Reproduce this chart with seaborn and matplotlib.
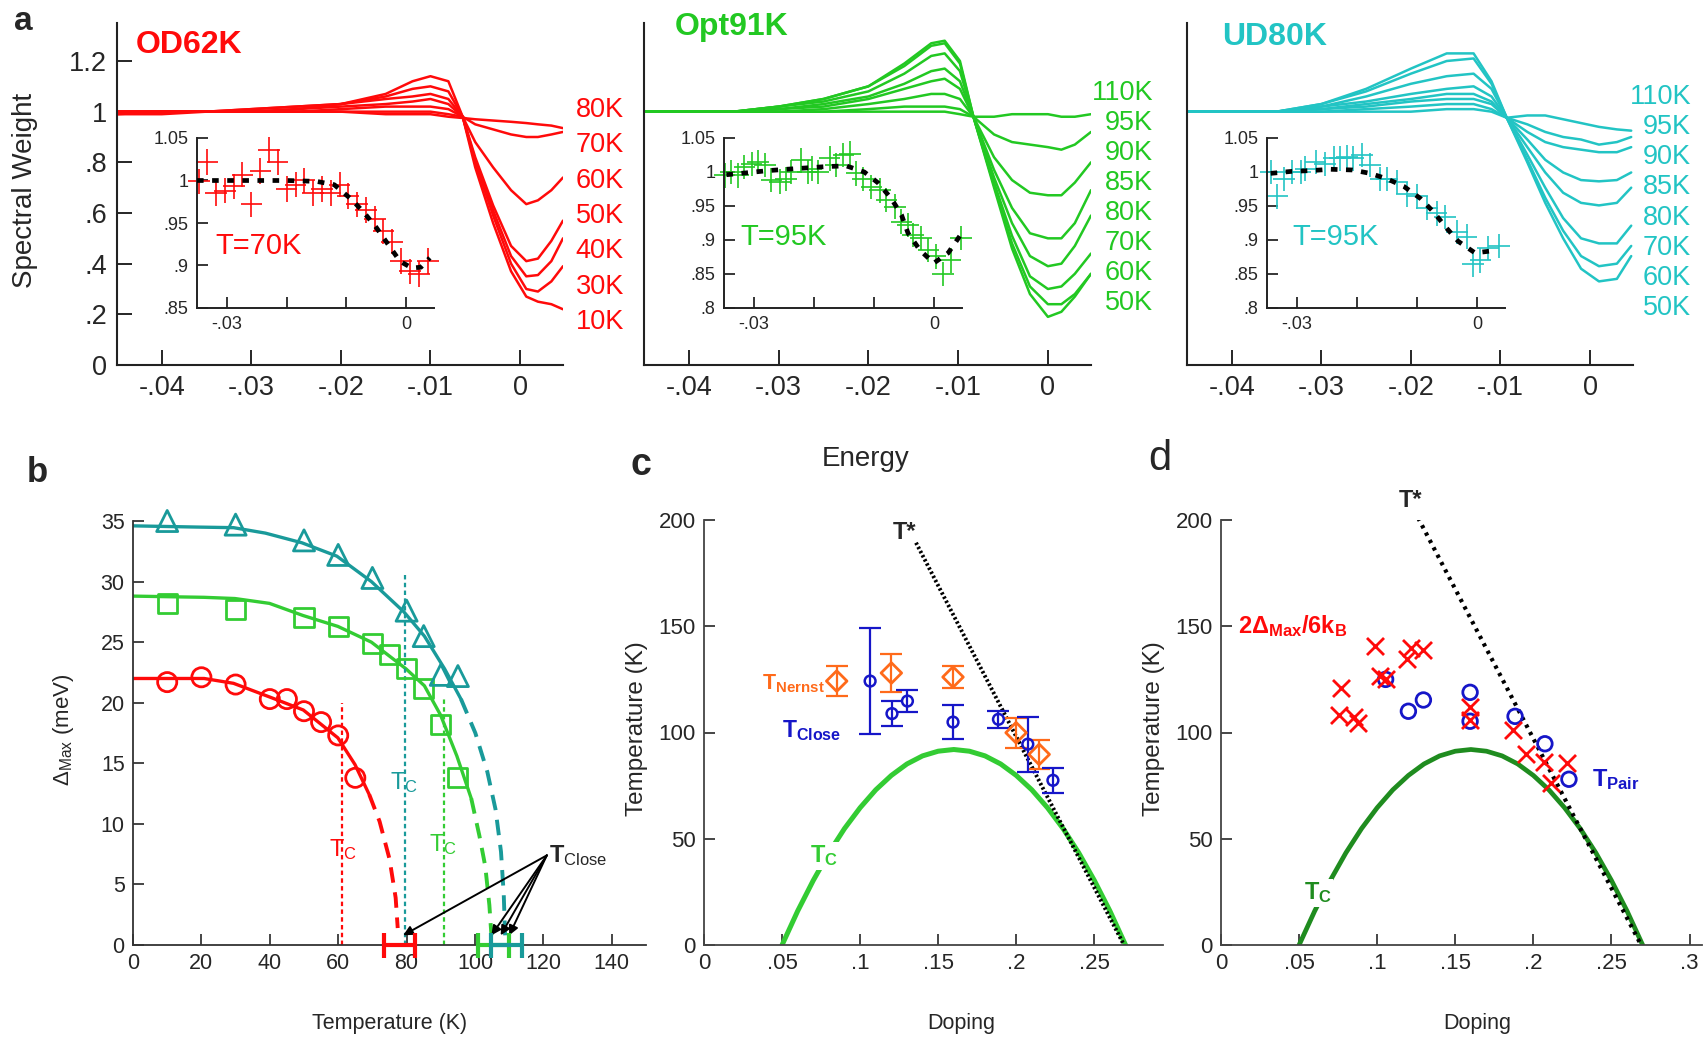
import numpy as np
import pandas as pd
import matplotlib
matplotlib.use("Agg")
import matplotlib.pyplot as plt
import seaborn as sns

# ---------------- data ----------------
# panel a : spectral weight vs energy, one curve per temperature
E_od = [-0.045, -0.04, -0.035, -0.03, -0.025, -0.02, -0.015, -0.012, -0.010, -0.008,
        -0.0064, -0.005, -0.003, -0.001, 0.0007, 0.002, 0.0035, 0.0048]
T_od = ['80K', '70K', '60K', '50K', '40K', '30K', '10K']
W_od = [
    [0.99, 0.99, 1.0, 1.0, 1.0, 1.0, 0.99, 0.99, 0.99, 0.98, 0.975, 0.97, 0.965, 0.96, 0.955, 0.95, 0.945, 0.935],
    [0.99, 1.0, 1.0, 1.0, 1.0, 1.0, 1.0, 1.0, 1.0, 0.99, 0.98, 0.95, 0.93, 0.91, 0.90, 0.90, 0.91, 0.92],
    [1.0, 1.0, 1.0, 1.0, 1.0, 1.01, 1.02, 1.02, 1.02, 1.01, 0.98, 0.88, 0.78, 0.69, 0.635, 0.65, 0.69, 0.74],
    [1.0, 1.0, 1.0, 1.0, 1.01, 1.02, 1.03, 1.04, 1.05, 1.03, 0.98, 0.82, 0.63, 0.47, 0.41, 0.42, 0.49, 0.57],
    [1.0, 1.0, 1.0, 1.0, 1.01, 1.03, 1.05, 1.06, 1.07, 1.05, 0.98, 0.81, 0.61, 0.43, 0.35, 0.355, 0.41, 0.50],
    [1.0, 1.0, 1.0, 1.01, 1.02, 1.03, 1.06, 1.09, 1.10, 1.08, 0.98, 0.80, 0.59, 0.40, 0.30, 0.29, 0.33, 0.39],
    [1.0, 1.0, 1.0, 1.01, 1.02, 1.03, 1.07, 1.12, 1.14, 1.12, 0.98, 0.78, 0.56, 0.37, 0.27, 0.25, 0.24, 0.22],
]

E_opt = [-0.045, -0.04, -0.035, -0.03, -0.025, -0.02, -0.016, -0.013, -0.0115, -0.0098,
         -0.0083, -0.006, -0.004, -0.002, 0.0, 0.0015, 0.003, 0.0048]
T_opt = ['110K', '95K', '90K', '85K', '80K', '70K', '60K', '50K']
W_opt = [
    [1.0, 1.0, 1.0, 1.0, 1.0, 1.0, 1.0, 1.0, 1.0, 0.99, 0.98, 0.98, 0.99, 0.99, 0.99, 0.98, 0.98, 0.99],
    [1.0, 1.0, 1.0, 1.0, 1.0, 1.01, 1.02, 1.02, 1.02, 1.01, 0.98, 0.91, 0.88, 0.87, 0.86, 0.85, 0.87, 0.92],
    [1.0, 1.0, 1.0, 1.0, 1.01, 1.03, 1.05, 1.07, 1.07, 1.05, 0.98, 0.82, 0.73, 0.68, 0.67, 0.67, 0.72, 0.80],
    [1.0, 1.0, 1.0, 1.01, 1.02, 1.05, 1.09, 1.12, 1.13, 1.09, 0.98, 0.77, 0.62, 0.52, 0.50, 0.50, 0.56, 0.69],
    [1.0, 1.0, 1.0, 1.01, 1.03, 1.06, 1.11, 1.16, 1.17, 1.12, 0.98, 0.74, 0.56, 0.43, 0.39, 0.40, 0.47, 0.59],
    [1.0, 1.0, 1.0, 1.02, 1.04, 1.08, 1.15, 1.22, 1.23, 1.16, 0.98, 0.72, 0.51, 0.35, 0.30, 0.31, 0.36, 0.44],
    [1.0, 1.0, 1.0, 1.02, 1.05, 1.10, 1.18, 1.26, 1.27, 1.19, 0.98, 0.71, 0.48, 0.31, 0.24, 0.24, 0.28, 0.36],
    [1.0, 1.0, 1.0, 1.02, 1.05, 1.10, 1.19, 1.27, 1.28, 1.20, 0.98, 0.70, 0.46, 0.28, 0.19, 0.21, 0.27, 0.36],
]

E_ud = [-0.045, -0.04, -0.035, -0.03, -0.025, -0.02, -0.016, -0.013, -0.011, -0.0093,
        -0.007, -0.005, -0.003, -0.001, 0.001, 0.003, 0.0046]
T_ud = ['110K', '95K', '90K', '85K', '80K', '70K', '60K', '50K']
W_ud = [
    [1.0, 1.0, 1.0, 1.0, 1.0, 1.0, 1.01, 1.01, 1.0, 0.976, 0.985, 0.985, 0.97, 0.955, 0.94, 0.93, 0.925],
    [1.0, 1.0, 1.0, 1.0, 1.01, 1.02, 1.03, 1.03, 1.01, 0.976, 0.95, 0.92, 0.90, 0.89, 0.87, 0.88, 0.90],
    [1.0, 1.0, 1.0, 1.01, 1.02, 1.04, 1.05, 1.05, 1.03, 0.976, 0.92, 0.88, 0.86, 0.85, 0.84, 0.84, 0.86],
    [1.0, 1.0, 1.0, 1.01, 1.03, 1.05, 1.07, 1.07, 1.04, 0.976, 0.89, 0.81, 0.76, 0.73, 0.725, 0.73, 0.76],
    [1.0, 1.0, 1.0, 1.02, 1.04, 1.07, 1.09, 1.10, 1.06, 0.976, 0.86, 0.76, 0.68, 0.64, 0.63, 0.64, 0.70],
    [1.0, 1.0, 1.0, 1.02, 1.06, 1.11, 1.14, 1.15, 1.09, 0.976, 0.83, 0.70, 0.58, 0.50, 0.48, 0.48, 0.55],
    [1.0, 1.0, 1.0, 1.03, 1.08, 1.15, 1.20, 1.21, 1.11, 0.976, 0.81, 0.66, 0.53, 0.43, 0.39, 0.40, 0.47],
    [1.0, 1.0, 1.0, 1.03, 1.09, 1.17, 1.23, 1.23, 1.12, 0.976, 0.80, 0.64, 0.50, 0.38, 0.33, 0.34, 0.43],
]

# insets : data with error crosses and black dashed fit
in_od_E = [-0.0347, -0.0333, -0.0318, -0.0303, -0.0288, -0.0274, -0.0259, -0.0244, -0.0229, -0.0215,
           -0.0200, -0.0185, -0.0170, -0.0156, -0.0141, -0.0126, -0.0111, -0.0097, -0.0082, -0.0067,
           -0.0052, -0.0038, -0.0023, -0.0008, 0.0007, 0.0022, 0.0037]
in_od_W = [0.999, 1.022, 0.985, 0.988, 0.993, 1.007, 0.972, 1.011, 1.036, 1.022,
           0.99, 0.995, 1.0, 0.985, 0.99, 0.985, 0.995, 0.982, 0.972, 0.965,
           0.955, 0.94, 0.928, 0.905, 0.893, 0.89, 0.905]
fit_od_E = [-0.035, -0.030, -0.025, -0.020, -0.015, -0.012, -0.009, -0.007, -0.005, -0.003, -0.001, 0.001, 0.0025, 0.004]
fit_od_W = [1.0, 1.0, 1.0, 1.0, 0.999, 0.995, 0.977, 0.962, 0.945, 0.925, 0.905, 0.897, 0.898, 0.909]

in_opt_E = [-0.0349, -0.0338, -0.0327, -0.0316, -0.0304, -0.0293, -0.0282, -0.0271, -0.0257, -0.0247,
            -0.0238, -0.0221, -0.0210, -0.0204, -0.0193, -0.0174, -0.0163, -0.0151, -0.0140, -0.0129,
            -0.0118, -0.0104, -0.0090, -0.0079, -0.0065, -0.0054, -0.0043, -0.0035, -0.0021, -0.0009,
            0.0003, 0.0015, 0.0028, 0.0045]
in_opt_W = [0.995, 1.0, 0.995, 1.007, 1.012, 1.015, 1.01, 0.988, 0.986, 0.99,
            1.0, 1.017, 1.0, 1.005, 1.0, 1.02, 1.01, 1.025, 1.027, 0.998,
            0.99, 0.978, 0.973, 0.959, 0.949, 0.927, 0.922, 0.907, 0.903, 0.885,
            0.876, 0.85, 0.87, 0.903]
fit_opt_E = [-0.0346, -0.031, -0.0277, -0.0246, -0.0213, -0.0179, -0.0146, -0.0116, -0.0093, -0.0071,
             -0.0054, -0.0043, -0.0023, 0.0, 0.0024, 0.0045]
fit_opt_W = [0.996, 0.999, 1.002, 1.004, 1.006, 1.008, 1.009, 1.0, 0.984, 0.961,
             0.937, 0.91, 0.885, 0.866, 0.881, 0.908]

in_ud_E = [-0.0344, -0.0333, -0.0322, -0.0308, -0.0294, -0.0286, -0.0269, -0.0253, -0.0239, -0.0228,
           -0.0217, -0.0206, -0.0192, -0.0178, -0.0161, -0.0150, -0.0133, -0.0117, -0.0100, -0.0083,
           -0.0067, -0.0053, -0.0033, -0.0017, -0.0006, 0.0006, 0.0019, 0.0037]
in_ud_W = [1.0, 0.964, 0.99, 1.0, 1.0, 1.005, 1.015, 1.012, 1.02, 1.02,
           1.022, 1.02, 1.025, 1.01, 0.99, 0.99, 0.985, 0.967, 0.964, 0.947,
           0.939, 0.934, 0.912, 0.905, 0.864, 0.87, 0.888, 0.891]
fit_ud_E = [-0.0344, -0.0308, -0.0278, -0.0244, -0.0208, -0.0178, -0.015, -0.0122, -0.0094, -0.0072,
            -0.005, -0.0031, -0.0003, 0.0025]
fit_ud_W = [0.998, 1.001, 1.002, 1.004, 1.003, 0.998, 0.99, 0.979, 0.961, 0.941,
            0.917, 0.898, 0.881, 0.884]

XERR = 0.0018
YERR_OD, YERR_OPT, YERR_UD = 0.015, 0.018, 0.018

# panel b : gap magnitude vs temperature
tri_T = [10, 30, 50, 60, 70, 80, 85, 90, 95]
tri_D = [35.0, 34.7, 33.4, 32.2, 30.3, 27.6, 25.5, 22.3, 22.2]
sq_T = [10, 30, 50, 60, 70, 75, 80, 85, 90, 95]
sq_D = [28.2, 27.7, 27.0, 26.3, 24.9, 24.0, 22.8, 21.2, 18.2, 13.8]
ci_T = [10, 20, 30, 40, 45, 50, 55, 60, 65]
ci_D = [21.7, 22.1, 21.5, 20.3, 20.3, 19.3, 18.4, 17.3, 13.8]

fit_tri_T = [0, 18.5, 29.4, 38.7, 49.4, 59.6, 69.7, 79.2, 85.2, 91.1, 95.9]
fit_tri_D = [34.6, 34.5, 34.45, 34.0, 33.2, 32.1, 30.0, 27.5, 25.5, 22.8, 20.3]
ext_tri_T = [95.9, 100.1, 103.6, 106.0, 107.6, 108.4, 108.8]
ext_tri_D = [20.3, 17.5, 14.3, 11.2, 7.7, 4.2, 0.8]
fit_sq_T = [0, 20.8, 29.8, 39.9, 49.7, 59.9, 69.7, 79.8, 85.2, 89.9, 94.7, 98.9]
fit_sq_D = [28.8, 28.7, 28.6, 28.2, 27.2, 26.3, 25.0, 22.8, 21.4, 19.0, 15.6, 12.1]
ext_sq_T = [98.9, 101.3, 103.0, 104.2, 104.8]
ext_sq_D = [12.1, 9.0, 6.5, 3.3, 0.8]
fit_ci_T = [0, 9.9, 20.8, 29.4, 39.7, 49.8, 59.9, 64.9, 69.1]
fit_ci_D = [22.0, 22.0, 22.0, 21.6, 20.5, 19.4, 17.1, 14.9, 12.4]
ext_ci_T = [69.1, 72.1, 75.0, 76.8, 77.4]
ext_ci_D = [12.4, 10.2, 7.1, 3.9, 1.4]

tc_b = [61.1, 79.6, 90.8]          # red, teal, green
tc_b_top = [20.0, 30.8, 20.5]
tclose_b = [78.0, 105.5, 109.3]    # red, green, teal
tclose_b_err = [4.5, 4.5, 4.5]
arrow_tips = [79.0, 104.8, 107.5, 110.0]

# panel c / d : phase diagram
dome_p = [0.05, 0.06, 0.07, 0.08, 0.09, 0.10, 0.11, 0.12, 0.13, 0.14, 0.15, 0.16,
          0.17, 0.18, 0.19, 0.20, 0.21, 0.22, 0.23, 0.24, 0.25, 0.26, 0.27]
dome_T = [0.0, 16.0, 30.4, 43.4, 54.8, 64.6, 73.0, 79.8, 85.2, 89.0, 91.2, 92.0,
          91.2, 89.0, 85.2, 79.8, 73.0, 64.6, 54.8, 43.4, 30.4, 16.0, 0.0]
tstar_c_p, tstar_c_T = [0.1358, 0.269], [189.3, 0.0]
tstar_d_p, tstar_d_T = [0.1262, 0.269], [201.0, 0.0]

nernst_p = [0.085, 0.120, 0.1595, 0.1999, 0.2147]
nernst_T = [124.2, 128.0, 126.1, 99.9, 89.7]
nernst_err = [7, 9, 5, 7, 7]
close_p = [0.1064, 0.1204, 0.1303, 0.1595, 0.1886, 0.2074, 0.2235]
close_T = [124.2, 108.9, 114.8, 104.9, 106.2, 94.5, 77.5]
close_err = [25, 6, 5, 8, 4, 13, 6]

gap_p = [0.0767, 0.0755, 0.0852, 0.0875, 0.0985, 0.102, 0.1054, 0.119, 0.1215, 0.1296,
         0.1595, 0.1595, 0.1872, 0.1952, 0.2067, 0.2113, 0.2217]
gap_T = [121.1, 108.2, 107.1, 104.4, 140.8, 126.8, 125.0, 134.6, 139.9, 139.0,
         112.1, 105.8, 101.3, 89.7, 86.1, 76.2, 85.6]
pair_p = [0.1054, 0.12, 0.1296, 0.1595, 0.1595, 0.1883, 0.2074, 0.2228]
pair_T = [125.0, 110.0, 115.3, 118.9, 105.3, 107.6, 94.7, 78.0]

# ---------------- style ----------------
RED, GREEN, CYAN = '#ff0a0a', '#22c822', '#22c4c4'
TEAL, GREEN_B = '#199a9a', '#33cc33'
BLUE, ORANGE, DKGREEN = '#1616c8', '#ff6a1a', '#1f8c1f'

sns.set_style("ticks")
plt.rcParams['font.family'] = ['Liberation Sans', 'DejaVu Sans']
plt.rcParams['mathtext.fontset'] = 'custom'
plt.rcParams['mathtext.rm'] = 'Liberation Sans'
plt.rcParams['mathtext.bf'] = 'Liberation Sans:bold'
plt.rcParams['mathtext.it'] = 'Liberation Sans:italic'

W, H = 1703, 1037
fig = plt.figure(figsize=(W / 100, H / 100), dpi=100)


def box(x0, y0, x1, y1):
    # axes from pixel corners (top-left origin)
    return fig.add_axes([x0 / W, 1 - y1 / H, (x1 - x0) / W, (y1 - y0) / H])


def ftext(x, y, s, **kw):
    kw.setdefault('ha', 'center')
    kw.setdefault('va', 'center')
    fig.text(x / W, 1 - y / H, s, **kw)


def clean(ax, lw=1.5, col='#222222'):
    sns.despine(ax=ax)
    for s in ['left', 'bottom']:
        ax.spines[s].set_linewidth(lw)
        ax.spines[s].set_color(col)
    ax.set_facecolor('none')
    ax.set_xlabel('')
    ax.set_ylabel('')


def hollow(ax, x, y, marker, s, c, lw):
    sns.scatterplot(x=x, y=y, marker=marker, s=s, color=c, facecolor='none', edgecolor=c,
                    linewidth=lw, ax=ax, clip_on=False, zorder=5, legend=False)


# ---------------- panel a ----------------
samples = [
    dict(E=E_od, T=T_od, W=W_od, c=RED, box=(117, 23, 563, 365), inbox=(197, 138, 434, 308),
         title='OD62K', tpos=(136, 45), lab_x=624, lab_y=(110, 322),
         iE=in_od_E, iW=in_od_W, fE=fit_od_E, fW=fit_od_W, iylim=(0.85, 1.05), yerr=YERR_OD,
         iyt=[0.85, 0.9, 0.95, 1.0, 1.05], iyl=['.85', '.9', '.95', '1', '1.05'],
         tlab='T=70K', tlpos=(215, 246), yaxis=True),
    dict(E=E_opt, T=T_opt, W=W_opt, c=GREEN, box=(644, 23, 1091, 365), inbox=(724, 138, 962, 308),
         title='Opt91K', tpos=(675, 27), lab_x=1153, lab_y=(93, 303),
         iE=in_opt_E, iW=in_opt_W, fE=fit_opt_E, fW=fit_opt_W, iylim=(0.8, 1.05), yerr=YERR_OPT,
         iyt=[0.8, 0.85, 0.9, 0.95, 1.0, 1.05], iyl=['.8', '.85', '.9', '.95', '1', '1.05'],
         tlab='T=95K', tlpos=(740, 237), yaxis=False),
    dict(E=E_ud, T=T_ud, W=W_ud, c=CYAN, box=(1187, 23, 1633, 365), inbox=(1267, 138, 1505, 308),
         title='UD80K', tpos=(1222, 37), lab_x=1691, lab_y=(97, 308),
         iE=in_ud_E, iW=in_ud_W, fE=fit_ud_E, fW=fit_ud_W, iylim=(0.8, 1.05), yerr=YERR_UD,
         iyt=[0.8, 0.85, 0.9, 0.95, 1.0, 1.05], iyl=['.8', '.85', '.9', '.95', '1', '1.05'],
         tlab='T=95K', tlpos=(1292, 237), yaxis=False),
]

for sp in samples:
    ax = box(*sp['box'])
    df = pd.DataFrame({'E': np.tile(sp['E'], len(sp['T'])),
                       'w': np.concatenate(sp['W']),
                       'T': np.repeat(sp['T'], len(sp['E']))})
    sns.lineplot(data=df, x='E', y='w', units='T', estimator=None, sort=False,
                 color=sp['c'], lw=1.8, ax=ax, legend=False)
    ax.set_xlim(-0.045, 0.0048)
    ax.set_ylim(0, 1.35)
    ax.set_xticks([-0.04, -0.03, -0.02, -0.01, 0.0])
    ax.set_xticklabels(['-.04', '-.03', '-.02', '-.01', '0'])
    if sp['yaxis']:
        ax.set_yticks([0, 0.2, 0.4, 0.6, 0.8, 1.0, 1.2])
        ax.set_yticklabels(['0', '.2', '.4', '.6', '.8', '1', '1.2'])
    else:
        ax.set_yticks([])
    ax.tick_params(direction='in', length=11, width=1.4, labelsize=19.5, pad=7)
    clean(ax)

    ftext(sp['tpos'][0], sp['tpos'][1], sp['title'], color=sp['c'], fontsize=23,
          fontweight='bold', ha='left')
    for lab, yy in zip(sp['T'], np.linspace(sp['lab_y'][0], sp['lab_y'][1], len(sp['T']))):
        ftext(sp['lab_x'], yy, lab, color=sp['c'], fontsize=19.5, ha='right')

    ia = box(*sp['inbox'])
    ia.errorbar(sp['iE'], sp['iW'], xerr=XERR, yerr=sp['yerr'], fmt='none', ecolor=sp['c'],
                elinewidth=1.2, capsize=0, clip_on=False)
    sns.lineplot(x=sp['fE'], y=sp['fW'], sort=False, estimator=None, color='k', lw=3.4,
                 linestyle=(0, (1.4, 1.8)), ax=ia, zorder=6)
    ia.set_xlim(-0.035, 0.0047)
    ia.set_ylim(*sp['iylim'])
    ia.set_xticks([-0.03, -0.02, -0.01, 0.0])
    ia.set_xticklabels(['-.03', '', '', '0'])
    ia.set_yticks(sp['iyt'])
    ia.set_yticklabels(sp['iyl'])
    ia.tick_params(direction='in', length=8, width=1.3, labelsize=13, pad=6)
    clean(ia, lw=1.4)
    ftext(sp['tlpos'][0], sp['tlpos'][1], sp['tlab'], color=sp['c'], fontsize=21, ha='left')

ftext(25, 190, 'Spectral Weight', fontsize=20, rotation=90)
ftext(23, 22, 'a', fontsize=24, fontweight='bold')
ftext(866, 459, 'Energy', fontsize=20)

# ---------------- panel b ----------------
axb = box(133, 521, 646, 945)
for fx, fy, ex, ey, c in [(fit_ci_T, fit_ci_D, ext_ci_T, ext_ci_D, RED),
                          (fit_sq_T, fit_sq_D, ext_sq_T, ext_sq_D, GREEN_B),
                          (fit_tri_T, fit_tri_D, ext_tri_T, ext_tri_D, TEAL)]:
    sns.lineplot(x=fx, y=fy, sort=False, estimator=None, color=c, lw=2.4, ax=axb)
    sns.lineplot(x=ex, y=ey, sort=False, estimator=None, color=c, lw=2.8,
                 linestyle=(0, (4, 2.5)), ax=axb)
hollow(axb, ci_T, ci_D, 'o', 190, RED, 2.0)
hollow(axb, sq_T, sq_D, 's', 190, GREEN_B, 2.0)
hollow(axb, tri_T, tri_D, '^', 230, TEAL, 2.0)
for x, top, c in zip(tc_b, tc_b_top, [RED, TEAL, GREEN_B]):
    axb.plot([x, x], [0, top], color=c, lw=1.6, linestyle=(0, (2, 1.5)))
for x, e, c in zip(tclose_b, tclose_b_err, [RED, GREEN_B, TEAL]):
    axb.errorbar([x], [0], xerr=[e], fmt='none', ecolor=c, elinewidth=3, capsize=9,
                 capthick=3, clip_on=False, zorder=4)
for tip in arrow_tips:
    axb.annotate('', xy=(tip, 0.8), xytext=(121, 7.4),
                 arrowprops=dict(arrowstyle='-|>', color='k', lw=1.4, mutation_scale=14,
                                 shrinkA=0, shrinkB=0))
axb.text(121.5, 7.4, r'$\mathbf{T}_{\mathrm{Close}}$', fontsize=17, ha='left', va='center')
axb.text(61.3, 7.9, r'T$_\mathrm{C}$', color=RED, fontsize=17, ha='center', va='center')
axb.text(79.2, 13.4, r'T$_\mathrm{C}$', color=TEAL, fontsize=17, ha='center', va='center')
axb.text(90.5, 8.3, r'T$_\mathrm{C}$', color=GREEN_B, fontsize=17, ha='center', va='center')
axb.set_xlim(0, 150)
axb.set_ylim(0, 35)
axb.set_xticks(np.arange(0, 141, 20))
axb.set_yticks(np.arange(0, 36, 5))
axb.tick_params(direction='in', length=8, width=1.2, labelsize=15.5, pad=6)
clean(axb, lw=1.3, col='#333333')
ftext(37, 472, 'b', fontsize=25, fontweight='bold')
ftext(390, 1023, 'Temperature (K)', fontsize=15.5)
ftext(64, 730, r'$\Delta_{\mathrm{Max}}$ (meV)', fontsize=16, rotation=90)

# ---------------- panel c ----------------
axc = box(704, 520, 1163, 945)
sns.lineplot(x=dome_p, y=dome_T, sort=False, estimator=None, color=GREEN_B, lw=3.6, ax=axc)
sns.lineplot(x=tstar_c_p, y=tstar_c_T, sort=False, estimator=None, color='k', lw=2.8,
             linestyle=(0, (0.6, 0.6)), ax=axc)
axc.errorbar(nernst_p, nernst_T, yerr=nernst_err, fmt='none', ecolor=ORANGE, elinewidth=1.6,
             capsize=8, capthick=1.6, zorder=4)
axc.errorbar(close_p, close_T, yerr=close_err, fmt='none', ecolor=BLUE, elinewidth=1.6,
             capsize=8, capthick=1.6, zorder=4)
hollow(axc, nernst_p, nernst_T, 'D', 110, ORANGE, 2.0)
hollow(axc, close_p, close_T, 'o', 60, BLUE, 1.8)
axc.text(0.0767, 42, r'$\mathbf{T_C}$', color=GREEN_B, fontsize=17, ha='center', va='center',
         bbox=dict(fc='white', ec='none', pad=1))
axc.text(0.1285, 194, 'T*', fontsize=17, fontweight='bold', ha='center', va='center')
axc.text(0.0369, 123, r'$\mathbf{T_{Nernst}}$', color=ORANGE, fontsize=15.5, ha='left', va='center')
axc.text(0.050, 101, r'$\mathbf{T_{Close}}$', color=BLUE, fontsize=16.5, ha='left', va='center')
axc.set_xlim(0, 0.294)
axc.set_ylim(0, 200)
axc.set_xticks([0, 0.05, 0.1, 0.15, 0.2, 0.25])
axc.set_xticklabels(['0', '.05', '.1', '.15', '.2', '.25'])
axc.set_yticks([0, 50, 100, 150, 200])
axc.tick_params(direction='in', length=8, width=1.2, labelsize=16, pad=6)
clean(axc, lw=1.3, col='#444444')
ftext(641, 465, 'c', fontsize=27, fontweight='bold')
ftext(961, 1023, 'Doping', fontsize=15.5)
ftext(637, 729, 'Temperature (K)', fontsize=17.5, rotation=90)

# ---------------- panel d ----------------
axd = box(1221, 520, 1702, 945)
sns.lineplot(x=dome_p, y=dome_T, sort=False, estimator=None, color=DKGREEN, lw=3.4, ax=axd)
sns.lineplot(x=tstar_d_p, y=tstar_d_T, sort=False, estimator=None, color='k', lw=3.0,
             linestyle=(0, (0.8, 1.2)), ax=axd)
hollow(axd, pair_p, pair_T, 'o', 110, BLUE, 2.0)
sns.scatterplot(x=gap_p, y=gap_T, marker='x', s=150, color=RED, linewidth=2.0, ax=axd,
                zorder=6, legend=False)
axd.text(0.062, 24.5, r'$\mathbf{T_C}$', color=DKGREEN, fontsize=17, ha='center', va='center',
         bbox=dict(fc='white', ec='none', pad=1))
axd.text(0.1215, 209, 'T*', fontsize=17, fontweight='bold', ha='center', va='center')
axd.text(0.011, 150, r'$\mathbf{2\Delta_{Max}/6k_B}$', color=RED, fontsize=17, ha='left', va='center')
axd.text(0.2378, 78, r'$\mathbf{T_{Pair}}$', color=BLUE, fontsize=17, ha='left', va='center')
axd.set_xlim(0, 0.308)
axd.set_ylim(0, 200)
axd.set_xticks([0, 0.05, 0.1, 0.15, 0.2, 0.25, 0.3])
axd.set_xticklabels(['0', '.05', '.1', '.15', '.2', '.25', '.3'])
axd.set_yticks([0, 50, 100, 150, 200])
axd.tick_params(direction='in', length=8, width=1.2, labelsize=16, pad=6)
clean(axd, lw=1.3, col='#444444')
ftext(1160, 459, 'd', fontsize=30)
ftext(1477, 1023, 'Doping', fontsize=15.5)
ftext(1154, 729, 'Temperature (K)', fontsize=17.5, rotation=90)

fig.savefig('out.png', dpi=100)
